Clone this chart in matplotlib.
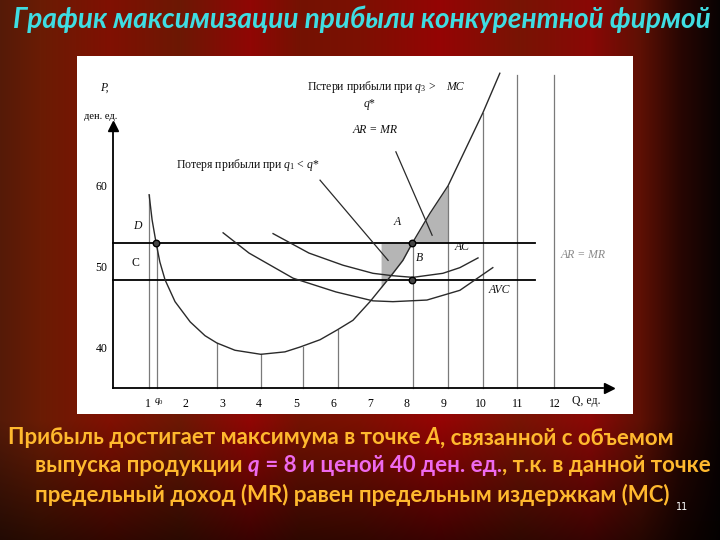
import numpy as np
import matplotlib
matplotlib.use("Agg")
import matplotlib.pyplot as plt

plt.rcParams["mathtext.fontset"] = "custom"
plt.rcParams["mathtext.rm"] = "Liberation Serif"
plt.rcParams["mathtext.it"] = "Liberation Serif:italic"

# --- data (q = output, p = price, ден. ед.) ---
mc_q = [1.03, 1.11, 1.22, 1.32, 1.46, 1.73, 2.14, 2.54, 2.86, 3.35, 4.05, 4.70,
        5.11, 5.65, 6.11, 6.54, 7.00, 7.32, 7.62, 7.89, 8.14, 8.62, 9.11, 9.57,
        10.05, 10.51]
mc_p = [58.8, 55.7, 52.8, 50.5, 48.3, 45.6, 43.1, 41.4, 40.5, 39.6, 39.1, 39.4,
        40.0, 40.9, 42.1, 43.3, 45.6, 47.4, 49.1, 50.7, 52.8, 56.5, 59.9, 64.3,
        68.9, 73.8]

ac_q = [4.38, 5.35, 6.27, 7.08, 7.62, 8.16, 8.97, 9.43, 9.92]
ac_p = [54.0, 51.6, 50.1, 49.1, 48.8, 48.6, 49.1, 49.8, 51.0]

avc_q = [3.03, 3.73, 4.92, 6.08, 7.08, 7.62, 8.54, 9.43, 10.32]
avc_p = [54.1, 51.6, 48.5, 46.8, 45.7, 45.6, 45.8, 47.0, 49.8]

price = 52.8          # AR = MR
lower_level = 48.3    # line through B
q_star = 8.14
q_zero = 1.22
q_left = 7.30         # left edge of the left shaded area
q_right = 9.11        # right edge of the right shaded area

# vertical guide lines: position and top
vline_q = [1.02, 1.23, 2.86, 4.06, 5.18, 6.13, 8.16, 9.11, 10.05, 10.97, 11.97]
vline_top = [58.8, 52.8, 40.5, 39.1, 40.0, 42.1, 52.8, 59.9, 68.9, 73.6, 73.6]

# pointer lines from the captions to the shaded areas
ptr1_q, ptr1_p = [5.65, 7.49], [60.6, 50.7]
ptr2_q, ptr2_p = [7.70, 8.68], [64.1, 53.8]

x_ticks = list(range(1, 13))
y_ticks = [40, 50, 60]

title = "График максимизации прибыли конкурентной фирмой"

W, H = 720, 540
fig = plt.figure(figsize=(7.2, 5.4), dpi=100)

# --- slide background ---
stops_x = [0, 40, 110, 180, 250, 300, 360, 440, 520, 590, 640, 680, 720]
stops_c = np.array([
    (0x55, 0x1a, 0x08), (0x6a, 0x1c, 0x04), (0x80, 0x10, 0x02), (0x6c, 0x18, 0x04),
    (0x90, 0x06, 0x04), (0x74, 0x12, 0x02), (0x7c, 0x10, 0x02), (0x95, 0x04, 0x04),
    (0x78, 0x14, 0x04), (0x8a, 0x08, 0x06), (0x5e, 0x10, 0x04), (0x28, 0x06, 0x02),
    (0x08, 0x02, 0x02)]) / 255.0
xs = np.arange(W)
row = np.stack([np.interp(xs, stops_x, stops_c[:, i]) for i in range(3)], axis=1)
ys = np.arange(H)
fade = np.interp(ys, [0, 420, 540], [1.0, 1.0, 0.4])
bg = fade[:, None, None] * row[None, :, :]
bg_ax = fig.add_axes([0, 0, 1, 1])
bg_ax.imshow(bg, aspect="auto", extent=[0, W, H, 0])
bg_ax.axis("off")

# --- chart panel ---
ax = fig.add_axes([77 / W, 1 - 414 / H, (633 - 77) / W, (414 - 56) / H])
ax.set_facecolor("white")
ax.set_xlim(-0.92, 14.11)
ax.set_ylim(31.73, 75.93)

q_axis, p_axis = 0.054, 34.94
for s in ["top", "right"]:
    ax.spines[s].set_visible(False)
ax.spines["left"].set_position(("data", q_axis))
ax.spines["bottom"].set_position(("data", p_axis))
ax.spines["left"].set_bounds(p_axis, 67.0)
ax.spines["bottom"].set_bounds(q_axis, 13.3)
for s in ["left", "bottom"]:
    ax.spines[s].set_linewidth(1.3)
ax.plot([13.45], [p_axis], marker=">", ms=7, color="black", clip_on=False)
ax.plot([q_axis], [67.3], marker="^", ms=7, color="black", clip_on=False)

serif = "Liberation Serif"
ax.set_xticks(x_ticks)
ax.set_xticklabels([str(v) for v in x_ticks], fontfamily=serif, fontsize=8.5)
ax.set_yticks(y_ticks)
ax.set_yticklabels([str(v) for v in y_ticks], fontfamily=serif, fontsize=8.5)
ax.tick_params(axis="x", length=0, pad=7)
ax.tick_params(axis="y", length=0, pad=4)

# guide lines
for q, top in zip(vline_q, vline_top):
    ax.plot([q, q], [p_axis, top], color="#7a7a7a", lw=0.9, clip_on=False)
ax.plot([q_axis, 11.46], [price, price], color="black", lw=1.3)
ax.plot([q_axis, 11.46], [lower_level, lower_level], color="black", lw=1.3)

# shaded profit-loss areas
mc_q_arr = np.array(mc_q)
left_q = np.concatenate([[q_left], mc_q_arr[(mc_q_arr > q_left) & (mc_q_arr < q_star)], [q_star]])
ax.fill_between(left_q, np.interp(left_q, mc_q, mc_p), price, color="#b5b5b5", lw=0)
right_q = np.concatenate([[q_star], mc_q_arr[(mc_q_arr > q_star) & (mc_q_arr < q_right)], [q_right]])
ax.fill_between(right_q, price, np.interp(right_q, mc_q, mc_p), color="#b5b5b5", lw=0)

# cost curves
ax.plot(mc_q, mc_p, color="#2a2a2a", lw=1.0, clip_on=False)
ax.plot(ac_q, ac_p, color="#2a2a2a", lw=1.0)
ax.plot(avc_q, avc_p, color="#2a2a2a", lw=1.0)
ax.plot(ptr1_q, ptr1_p, color="#2a2a2a", lw=0.9)
ax.plot(ptr2_q, ptr2_p, color="#2a2a2a", lw=0.9)

ax.scatter([q_zero, q_star, q_star], [price, price, lower_level], s=22,
           color="#444444", edgecolor="black", zorder=5)

# chart texts
tkw = dict(fontfamily=serif, fontsize=8.5, color="#111111")
ax.text(-0.19, 72.0, "P,", style="italic", ha="center", va="center", **tkw)
ax.text(-0.27, 68.4, "ден. ед.", ha="center", va="center", fontfamily=serif, fontsize=7.5)
ax.text(7.05, 72.1, "Пстери прибыли при $q_3$ >", ha="center", va="center", **tkw)
ax.text(7.0, 70.0, "$q$*", ha="center", va="center", **tkw)
ax.text(9.3, 72.1, "MC", style="italic", ha="center", va="center", **tkw)
ax.text(7.14, 66.8, "AR = MR", style="italic", ha="center", va="center", **tkw)
ax.text(3.7, 62.5, "Потеря прибыли при $q_1$ < $q$*", ha="center", va="center", **tkw)
ax.text(0.70, 54.9, "D", style="italic", ha="center", va="center", **tkw)
ax.text(0.65, 50.4, "C", ha="center", va="center", **tkw)
ax.text(7.73, 55.4, "A", style="italic", ha="center", va="center", **tkw)
ax.text(8.35, 51.0, "B", style="italic", ha="center", va="center", **tkw)
ax.text(9.5, 52.3, "AC", style="italic", ha="center", va="center", **tkw)
ax.text(10.5, 47.0, "AVC", style="italic", ha="center", va="center", **tkw)
ax.text(12.75, 51.4, "AR = MR", style="italic", ha="center", va="center",
        fontfamily=serif, fontsize=8.5, color="#8a8a8a")
ax.text(1.3, 33.3, "$q_0$", ha="center", va="center", fontfamily=serif, fontsize=7)
ax.text(12.85, 33.3, "Q, ед.", ha="center", va="center", **tkw)

# --- slide texts ---
fig.text(362 / W, 1 - 19 / H, title, ha="center", va="center", color="#3fdde2",
         fontfamily="Lato", fontweight="bold", style="italic", fontsize=20.2)

gold, pink = "#ffb92e", "#ee6aee"
bkw = dict(fontfamily="Lato", fontweight="bold", fontsize=16)
l1 = fig.text(8 / W, 1 - 438 / H, "Прибыль достигает максимума в точке ", color=gold,
              va="center", **bkw)
t = ax.annotate("А", xy=(1, 0.5), xycoords=l1, va="center", color=gold, style="italic", **bkw)
ax.annotate(", связанной с объемом", xy=(1, 0.5), xycoords=t, va="center", color=gold, **bkw)

l2 = fig.text(35 / W, 1 - 466 / H, "выпуска продукции ", color=gold, va="center", **bkw)
t = ax.annotate("q", xy=(1, 0.5), xycoords=l2, va="center", color=pink, style="italic", **bkw)
t = ax.annotate(" = 8 и ценой 40 ден. ед.", xy=(1, 0.5), xycoords=t, va="center", color=pink, **bkw)
ax.annotate(", т.к. в данной точке", xy=(1, 0.5), xycoords=t, va="center", color=gold, **bkw)

fig.text(35 / W, 1 - 495 / H, "предельный доход (MR) равен предельным издержкам (МС)",
         color=gold, va="center", **bkw)
fig.text(682 / W, 1 - 507 / H, "11", color="white", fontsize=7, ha="center", va="center")

fig.savefig("out.png", dpi=100, facecolor="black")
